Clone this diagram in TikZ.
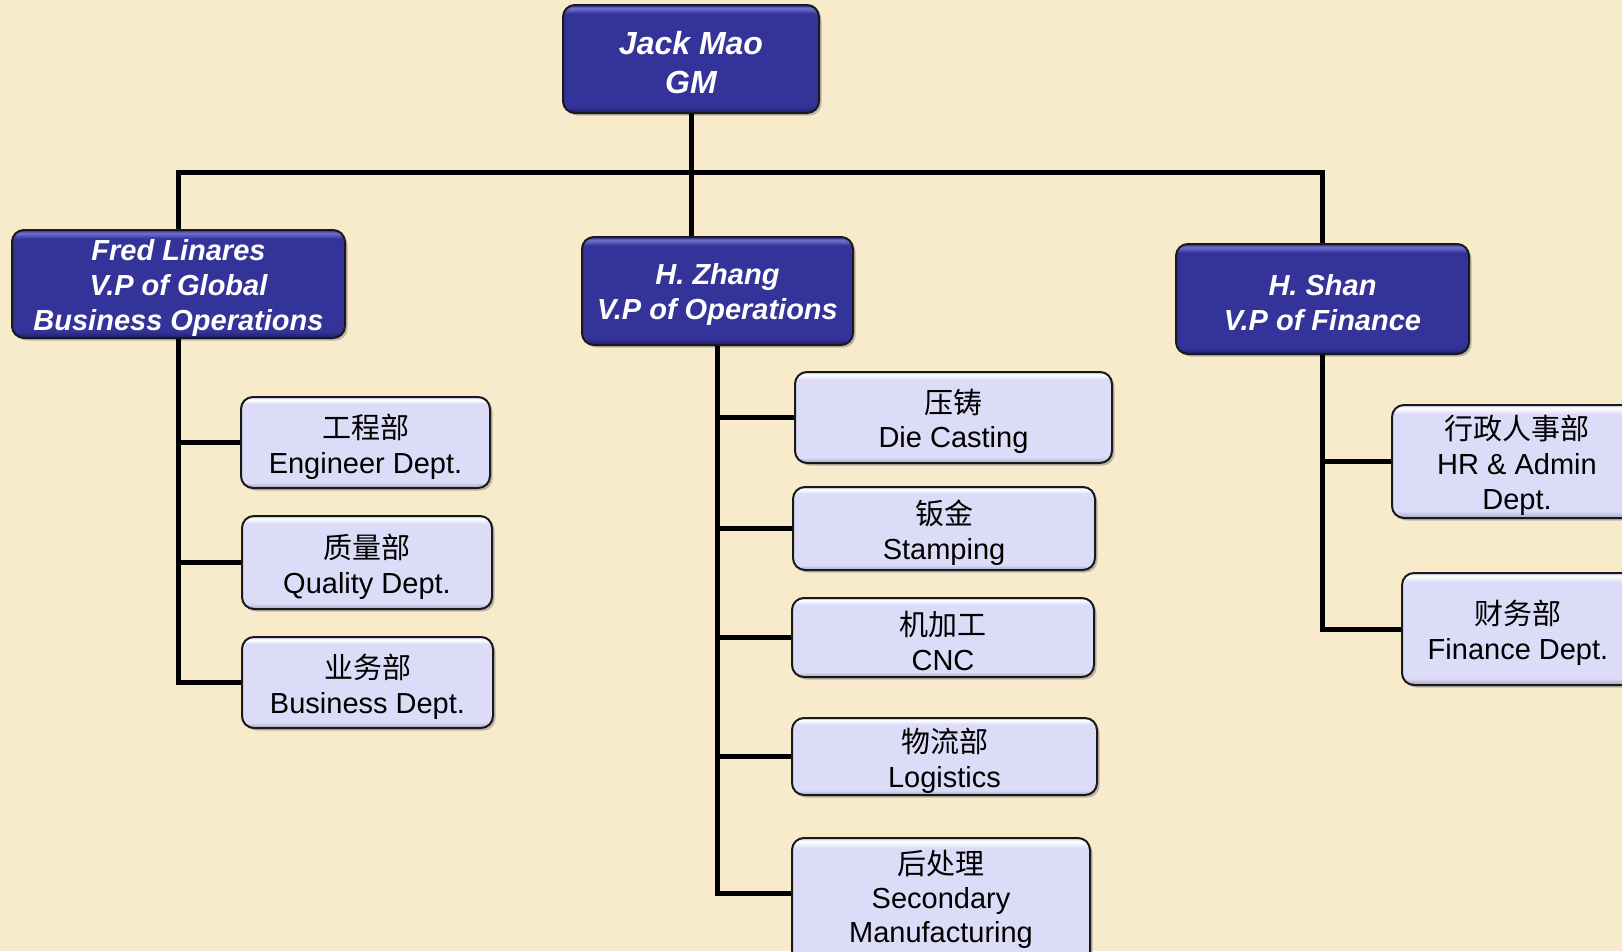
\documentclass[tikz,border=0pt]{standalone}
\usepackage{fontspec}
\setmainfont{Liberation Sans}
\newfontfamily\cjk{Noto Sans CJK SC}
\usetikzlibrary{shadows}
\definecolor{bg}{HTML}{F7EBCC}
\definecolor{vpblue}{HTML}{333399}
\definecolor{vptop}{HTML}{7070CC}
\definecolor{vpbot}{HTML}{1E1E66}
\definecolor{dept}{HTML}{DCDCF8}
\definecolor{depttop}{HTML}{FFFFFF}
\definecolor{deptbot}{HTML}{A4A4C4}
\pgfdeclareverticalshading{vpshade}{100bp}{color(0bp)=(vpbot); color(25bp)=(vpbot); color(28bp)=(vpblue); color(71bp)=(vpblue); color(73.5bp)=(vptop); color(75bp)=(vpblue); color(100bp)=(vpblue)}
\pgfdeclareverticalshading{dpshade}{100bp}{color(0bp)=(deptbot); color(25bp)=(deptbot); color(28bp)=(dept); color(71bp)=(dept); color(73.5bp)=(depttop); color(75bp)=(dept); color(100bp)=(dept)}
\newcommand\vs{\rule{0pt}{29pt}}
\newcommand\ds{\rule{0pt}{32pt}}
\begin{document}
\begin{tikzpicture}[x=1pt,y=-1pt,
  box/.style={draw=black!90, line width=2pt, rounded corners=12pt, inner sep=0pt, align=center,
    drop shadow={shadow xshift=2.5pt,shadow yshift=-2.5pt,opacity=0.5}},
  vp/.style={box, shading=vpshade, text=white,
    font=\fontsize{29}{35}\selectfont\bfseries\itshape},
  dp/.style={box, shading=dpshade, text=black,
    font=\fontsize{29}{35}\selectfont},
  conn/.style={line width=5pt, black}]
\useasboundingbox (0,0) rectangle (1622,951);
\clip (0,0) rectangle (1622,951);
\fill[bg] (0,0) rectangle (1622,951);

% top and VPs
\node[vp, minimum width=256pt, minimum height=108pt, font=\fontsize{32}{39}\selectfont\bfseries\itshape] (gm) at (691,59) {\rule{0pt}{30pt}Jack Mao\\GM};
\node[vp, minimum width=333pt, minimum height=108pt] (fred) at (178.5,284) {\vs Fred Linares\\V.P of Global\\Business Operations};
\node[vp, minimum width=271pt, minimum height=108pt] (zhang) at (717.5,291) {\vs H. Zhang\\V.P of Operations};
\node[vp, minimum width=293pt, minimum height=110pt] (shan) at (1322.5,299) {\vs H. Shan\\V.P of Finance};

% departments
\node[dp, minimum width=249pt, minimum height=91pt] (eng) at (365.5,442.5) {\ds{\cjk 工程部}\\Engineer Dept.};
\node[dp, minimum width=250pt, minimum height=93pt] (qual) at (367,562.5) {\ds{\cjk 质量部}\\Quality Dept.};
\node[dp, minimum width=251pt, minimum height=91pt] (bus) at (367.5,682.5) {\ds{\cjk 业务部}\\Business Dept.};

\node[dp, minimum width=317pt, minimum height=91pt] (die) at (953.5,417.5) {\ds{\cjk 压铸}\\Die Casting};
\node[dp, minimum width=302pt, minimum height=83pt] (stamp) at (944,528.5) {\ds{\cjk 钣金}\\Stamping};
\node[dp, minimum width=302pt, minimum height=79pt] (cnc) at (943,637.5) {\ds{\cjk 机加工}\\CNC};
\node[dp, minimum width=305pt, minimum height=77pt] (logi) at (944.5,756.5) {\ds{\cjk 物流部}\\Logistics};
\node[dp, minimum width=298pt, minimum height=126pt, font=\fontsize{29}{34}\selectfont] (sec) at (941,901) {{\cjk 后处理}\\Secondary\\Manufacturing\rule[-9pt]{0pt}{0pt}};

\node[dp, minimum width=250pt, minimum height=113pt] (hr) at (1517,461.5) {\ds{\cjk 行政人事部}\\HR \& Admin\\Dept.};
\node[dp, minimum width=232pt, minimum height=112pt] (fin) at (1518,629) {\ds{\cjk 财务部}\\Finance Dept.};

% connectors
\coordinate (j) at (691,172);
\draw[conn] (gm.south) -- (gm.south |- zhang.north);
\draw[conn] (fred.north) |- (j) -| (shan.north);

\draw[conn] (fred.south) |- (bus.west);
\draw[conn] (fred.south |- eng.west) -- (eng.west);
\draw[conn] (fred.south |- qual.west) -- (qual.west);

\draw[conn] (zhang.south) |- (sec.177.5);
\draw[conn] (zhang.south |- die.west) -- (die.west);
\draw[conn] (zhang.south |- stamp.west) -- (stamp.west);
\draw[conn] (zhang.south |- cnc.west) -- (cnc.west);
\draw[conn] (zhang.south |- logi.west) -- (logi.west);

\draw[conn] (shan.south) |- (fin.west);
\draw[conn] (shan.south |- hr.west) -- (hr.west);
\end{tikzpicture}
\end{document}
